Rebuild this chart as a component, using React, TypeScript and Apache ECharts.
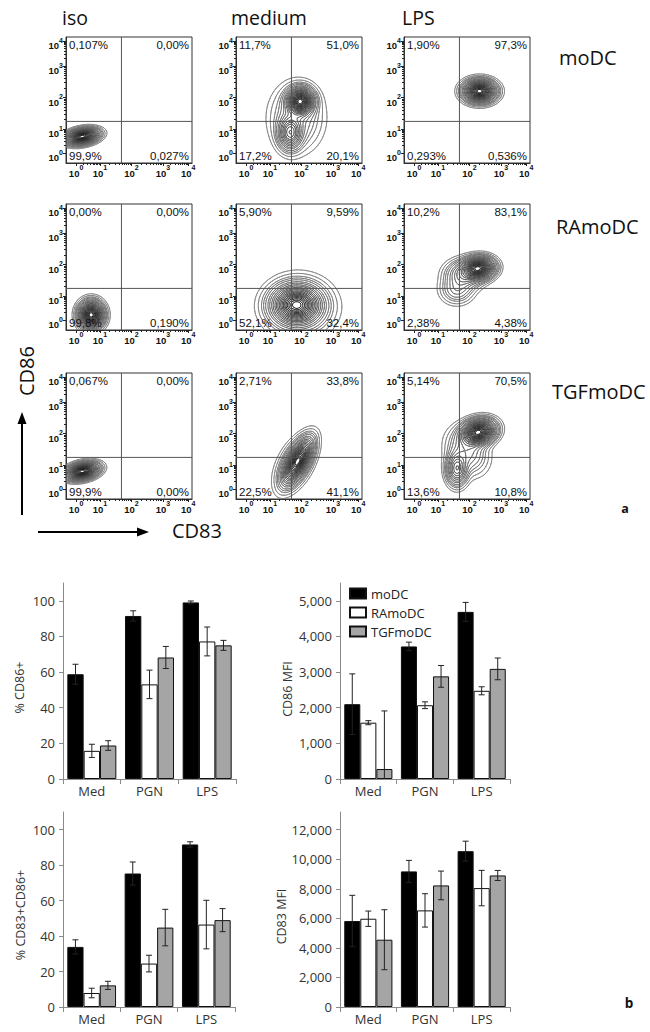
import React, { useEffect, useRef } from "react";
import * as echarts from "echarts";

// ---------- Flow cytometry (panel a) ----------
const COLUMN_TITLES = ["iso", "medium", "LPS"];
const ROW_TITLES = ["moDC", "RAmoDC", "TGFmoDC"];
// display positions (0-100) of the decades 10^0 .. 10^4
const DECADE_POS = [8, 27, 52, 77, 97];
const GATE_X = 44;
const GATE_Y = 33;

// quadrant percentages [top-left, top-right, bottom-left, bottom-right], per row
const QUAD_ISO = [
  ["0,107%", "0,00%", "99,9%", "0,027%"],
  ["0,00%", "0,00%", "99,8%", "0,190%"],
  ["0,067%", "0,00%", "99,9%", "0,00%"],
];
const QUAD_MEDIUM = [
  ["11,7%", "51,0%", "17,2%", "20,1%"],
  ["5,90%", "9,59%", "52,1%", "32,4%"],
  ["2,71%", "33,8%", "22,5%", "41,1%"],
];
const QUAD_LPS = [
  ["1,90%", "97,3%", "0,293%", "0,536%"],
  ["10,2%", "83,1%", "2,38%", "4,38%"],
  ["5,14%", "70,5%", "13,6%", "10,8%"],
];

// cell populations: [cx, cy, sdAlong, sdAcross, angleDeg, weight] in display units
const POP_ISO = [
  [[13, 21, 6.5, 3, 10, 1]],
  [[20, 12, 5, 5.5, 0, 1]],
  [[13, 22, 6.5, 3.2, 12, 1]],
];
const POP_MEDIUM = [
  [[51, 49, 5.5, 5.5, 0, 1], [43, 24, 5, 7, 0, 0.45], [48, 36, 11, 14, 0, 0.12]],
  [[48, 20, 10, 8, 0, 1], [50, 18, 14, 12, 0, 0.2]],
  [[49, 30, 10, 4.2, 62, 1], [47, 28, 12, 6.5, 62, 0.15]],
];
const POP_LPS = [
  [[60, 57, 6.5, 4.5, 0, 1]],
  [[59, 49, 6.5, 4.5, 5, 1], [48, 44, 8, 6, 0, 0.25], [42, 32, 7, 6, 0, 0.12]],
  [[59, 53, 7, 5, 15, 1], [42, 24, 4.5, 7, 0, 0.35], [50, 38, 8, 10, 30, 0.15]],
];
const CONTOUR_LEVELS = [
  0.01, 0.02, 0.035, 0.05, 0.07, 0.1, 0.13, 0.17, 0.21, 0.26, 0.31,
  0.36, 0.42, 0.48, 0.54, 0.6, 0.66, 0.72, 0.78, 0.84, 0.9, 0.95,
];

const QUADS = [QUAD_ISO, QUAD_MEDIUM, QUAD_LPS];
const POPS = [POP_ISO, POP_MEDIUM, POP_LPS];

// ---------- Bar charts (panel b) ----------
const CATEGORIES = ["Med", "PGN", "LPS"];
const GROUPS = ["moDC", "RAmoDC", "TGFmoDC"];

const PCT_TICKS = [0, 20, 40, 60, 80, 100];
const CD86_MFI_TICKS = [0, 1000, 2000, 3000, 4000, 5000];
const CD83_MFI_TICKS = [0, 2000, 4000, 6000, 8000, 10000, 12000];

const CD86_PCT_MODC = [58.8, 91.5, 99.1];
const CD86_PCT_MODC_ERR = [5.6, 2.9, 0.8];
const CD86_PCT_RA = [15.8, 53.1, 77.2];
const CD86_PCT_RA_ERR = [3.7, 8, 8.1];
const CD86_PCT_TGF = [18.8, 68.2, 75];
const CD86_PCT_TGF_ERR = [2.7, 6.2, 2.8];

const CD86_MFI_MODC = [2100, 3720, 4690];
const CD86_MFI_MODC_ERR = [850, 120, 265];
const CD86_MFI_RA = [1580, 2070, 2475];
const CD86_MFI_RA_ERR = [57, 95, 113];
const CD86_MFI_TGF = [280, 2880, 3090];
const CD86_MFI_TGF_ERR = [1630, 305, 305];

const CD83_PCT_MODC = [33.9, 75.3, 91.7];
const CD83_PCT_MODC_ERR = [4, 6.5, 1.5];
const CD83_PCT_RA = [7.9, 24.5, 46.5];
const CD83_PCT_RA_ERR = [2.7, 4.7, 13.7];
const CD83_PCT_TGF = [12.2, 44.8, 49];
const CD83_PCT_TGF_ERR = [2.3, 10.3, 6.5];

const CD83_MFI_MODC = [5820, 9180, 10550];
const CD83_MFI_MODC_ERR = [1740, 745, 675];
const CD83_MFI_RA = [5975, 6540, 8050];
const CD83_MFI_RA_ERR = [520, 1130, 1200];
const CD83_MFI_TGF = [4555, 8230, 8905];
const CD83_MFI_TGF_ERR = [2030, 970, 340];

const GROUP_COLORS = ["#000000", "#ffffff", "#a5a5a5"];

// ---------- helpers ----------
const MINOR_POS: number[] = [];
for (let k = 0; k < DECADE_POS.length - 1; k++) {
  for (let m = 2; m <= 9; m++) {
    MINOR_POS.push(DECADE_POS[k] + (DECADE_POS[k + 1] - DECADE_POS[k]) * Math.log10(m));
  }
}

const SEG = [
  [], [3, 0], [0, 1], [3, 1], [1, 2], [3, 0, 1, 2], [0, 2], [3, 2],
  [2, 3], [0, 2], [0, 1, 2, 3], [1, 2], [1, 3], [0, 1], [0, 3], [],
];

function densityGrid(pops: number[][], n: number) {
  const N1 = n + 1;
  const vals = new Float64Array(N1 * N1);
  let max = 0;
  for (let j = 0; j <= n; j++) {
    for (let i = 0; i <= n; i++) {
      const x = (i * 100) / n;
      const y = (j * 100) / n;
      let f = 0;
      for (const p of pops) {
        const [cx, cy, sa, sb, rot, w] = p;
        const t = (rot * Math.PI) / 180;
        const dx = x - cx;
        const dy = y - cy;
        const u = dx * Math.cos(t) + dy * Math.sin(t);
        const v = -dx * Math.sin(t) + dy * Math.cos(t);
        f += w * Math.exp(-0.5 * ((u * u) / (sa * sa) + (v * v) / (sb * sb)));
      }
      vals[j * N1 + i] = f;
      if (f > max) max = f;
    }
  }
  for (let q = 0; q < vals.length; q++) vals[q] /= max;
  return vals;
}

function contourPath(vals: Float64Array, n: number, L: number, X: (v: number) => number, Y: (v: number) => number) {
  const N1 = n + 1;
  const s = 100 / n;
  const parts: string[] = [];
  const ip = (a: number, b: number, va: number, vb: number) => a + ((b - a) * (L - va)) / (vb - va);
  for (let j = 0; j < n; j++) {
    for (let i = 0; i < n; i++) {
      const v0 = vals[j * N1 + i];
      const v1 = vals[j * N1 + i + 1];
      const v2 = vals[(j + 1) * N1 + i + 1];
      const v3 = vals[(j + 1) * N1 + i];
      const idx = (v0 > L ? 1 : 0) | (v1 > L ? 2 : 0) | (v2 > L ? 4 : 0) | (v3 > L ? 8 : 0);
      if (idx === 0 || idx === 15) continue;
      const e = [
        [ip(i, i + 1, v0, v1), j],
        [i + 1, ip(j, j + 1, v1, v2)],
        [ip(i, i + 1, v3, v2), j + 1],
        [i, ip(j, j + 1, v0, v3)],
      ];
      const sg = SEG[idx];
      for (let q = 0; q < sg.length; q += 2) {
        const a = e[sg[q]];
        const b = e[sg[q + 1]];
        parts.push(
          "M" + X(a[0] * s).toFixed(1) + " " + Y(a[1] * s).toFixed(1) +
          "L" + X(b[0] * s).toFixed(1) + " " + Y(b[1] * s).toFixed(1)
        );
      }
    }
  }
  return parts.join("");
}

function levelColor(li: number) {
  const t = li / (CONTOUR_LEVELS.length - 1);
  const g = Math.round(125 - 100 * t);
  return `rgb(${g},${g},${g})`;
}

function makeFlowRender(pops: number[][], quad: string[]) {
  return (_params: any, api: any) => {
    const p0 = api.coord([0, 0]);
    const p1 = api.coord([100, 100]);
    const X = (v: number) => p0[0] + ((p1[0] - p0[0]) * v) / 100;
    const Y = (v: number) => p0[1] + ((p1[1] - p0[1]) * v) / 100;
    const n = 100;
    const vals = densityGrid(pops, n);
    const children: any[] = [];
    CONTOUR_LEVELS.forEach((L, li) => {
      const d = contourPath(vals, n, L, X, Y);
      if (d) {
        children.push({
          type: "path",
          shape: { pathData: d },
          style: { stroke: levelColor(li), fill: "none", lineWidth: 0.8, lineCap: "round" },
        });
      }
    });
    const gs = { stroke: "#555", lineWidth: 1 };
    children.push({ type: "line", shape: { x1: X(GATE_X), y1: Y(0), x2: X(GATE_X), y2: Y(100) }, style: gs });
    children.push({ type: "line", shape: { x1: X(0), y1: Y(GATE_Y), x2: X(100), y2: Y(GATE_Y) }, style: gs });
    const ts = { fill: "#111", fontSize: 11.5, fontFamily: "Liberation Sans, Arial, sans-serif" };
    const pos = [
      [X(0) + 3, Y(100) + 2, "left", "top"],
      [X(100) - 3, Y(100) + 2, "right", "top"],
      [X(0) + 3, Y(0) - 1, "left", "bottom"],
      [X(100) - 3, Y(0) - 1, "right", "bottom"],
    ];
    quad.forEach((txt, qi) => {
      const [x, y, al, va] = pos[qi] as any;
      children.push({
        type: "text",
        style: { ...ts, text: txt, x, y, align: al, textAlign: al, verticalAlign: va, textVerticalAlign: va },
      });
    });
    return { type: "group", children };
  };
}

const FLOW_RICH = {
  b: { fontSize: 9.5, fontWeight: "bold", fontFamily: "Liberation Sans, Arial", color: "#111", lineHeight: 14, verticalAlign: "bottom" },
  s: { fontSize: 7, fontWeight: "bold", fontFamily: "Liberation Sans, Arial", color: "#111", lineHeight: 6, verticalAlign: "top" },
};

function fmtDecade(v: number) {
  const k = DECADE_POS.findIndex((d) => Math.abs(d - v) < 0.01);
  return `{b|10}{s|${k}}`;
}

function flowAxis(gridIndex: number, dim: "x" | "y", major: boolean) {
  const base: any = {
    gridIndex,
    type: "value",
    min: 0,
    max: 100,
    position: dim === "x" ? "bottom" : "left",
    splitLine: { show: false },
    silent: true,
  };
  if (major) {
    return {
      ...base,
      axisLine: { show: true, lineStyle: { color: "#333", width: 1 } },
      axisTick: { show: true, length: 3, customValues: DECADE_POS, lineStyle: { color: "#222", width: 1 } },
      axisLabel: {
        show: true,
        customValues: DECADE_POS,
        formatter: fmtDecade,
        rich: FLOW_RICH,
        margin: dim === "x" ? 1 : 3,
        padding: dim === "y" ? [6, 0, 0, 0] : 0,
      },
    };
  }
  return {
    ...base,
    axisLine: { show: false },
    axisTick: { show: true, length: 2, customValues: MINOR_POS, lineStyle: { color: "#222", width: 1 } },
    axisLabel: { show: false },
  };
}

const FONT = "Open Sans, Noto Sans, sans-serif";

function errRender(_params: any, api: any) {
  const cat = api.value(0);
  const v = api.value(1);
  const e = api.value(2);
  const g = api.value(3);
  const band = api.size([1, 0])[0];
  const bw = (band * 0.85) / 3;
  const cx = api.coord([cat, v])[0] + (g - 1) * bw;
  const yt = api.coord([cat, v + e])[1];
  const yb = api.coord([cat, v - e])[1];
  const cap = 3;
  const st = { stroke: "#222", lineWidth: 1 };
  return {
    type: "group",
    children: [
      { type: "line", shape: { x1: cx, y1: yt, x2: cx, y2: yb }, style: st },
      { type: "line", shape: { x1: cx - cap, y1: yt, x2: cx + cap, y2: yt }, style: st },
      { type: "line", shape: { x1: cx - cap, y1: yb, x2: cx + cap, y2: yb }, style: st },
    ],
  };
}

function buildOption() {
  const grid: any[] = [];
  const xAxis: any[] = [];
  const yAxis: any[] = [];
  const series: any[] = [];

  const FLOW_LEFT = [66, 236, 404];
  const FLOW_TOP = [37, 204, 373];
  for (let r = 0; r < 3; r++) {
    for (let c = 0; c < 3; c++) {
      const k = r * 3 + c;
      grid.push({ left: FLOW_LEFT[c], top: FLOW_TOP[r], width: 126, height: 126, show: true, borderColor: "#333", borderWidth: 1 });
      xAxis.push(flowAxis(k, "x", true), flowAxis(k, "x", false));
      yAxis.push(flowAxis(k, "y", true), flowAxis(k, "y", false));
      series.push({
        type: "custom",
        name: "flow" + k,
        xAxisIndex: 2 * k,
        yAxisIndex: 2 * k,
        clip: true,
        silent: true,
        data: [[50, 50]],
        renderItem: makeFlowRender(POPS[c][r], QUADS[c][r]),
      });
    }
  }

  const charts = [
    {
      name: "% CD86+", max: 110, ticks: PCT_TICKS, left: 63, top: 583, width: 173, height: 196, gap: 37, pad: 13,
      vals: [CD86_PCT_MODC, CD86_PCT_RA, CD86_PCT_TGF], errs: [CD86_PCT_MODC_ERR, CD86_PCT_RA_ERR, CD86_PCT_TGF_ERR],
    },
    {
      name: "CD86 MFI", max: 5500, ticks: CD86_MFI_TICKS, left: 340, top: 583, width: 170, height: 196, gap: 46, pad: 16,
      vals: [CD86_MFI_MODC, CD86_MFI_RA, CD86_MFI_TGF], errs: [CD86_MFI_MODC_ERR, CD86_MFI_RA_ERR, CD86_MFI_TGF_ERR],
    },
    {
      name: "% CD83+CD86+", max: 110, ticks: PCT_TICKS, left: 63, top: 812, width: 172, height: 195, gap: 36, pad: 11,
      vals: [CD83_PCT_MODC, CD83_PCT_RA, CD83_PCT_TGF], errs: [CD83_PCT_MODC_ERR, CD83_PCT_RA_ERR, CD83_PCT_TGF_ERR],
    },
    {
      name: "CD83 MFI", max: 13200, ticks: CD83_MFI_TICKS, left: 340, top: 812, width: 170, height: 195, gap: 48, pad: 14,
      vals: [CD83_MFI_MODC, CD83_MFI_RA, CD83_MFI_TGF], errs: [CD83_MFI_MODC_ERR, CD83_MFI_RA_ERR, CD83_MFI_TGF_ERR],
    },
  ];

  charts.forEach((ch, ci) => {
    const gi = grid.length;
    grid.push({ left: ch.left, top: ch.top, width: ch.width, height: ch.height, show: false });
    const ai = xAxis.length;
    xAxis.push({
      gridIndex: gi,
      type: "category",
      data: CATEGORIES,
      boundaryGap: true,
      axisLine: { show: true, lineStyle: { color: "#8a8a8a", width: 1 } },
      axisTick: { show: true, length: 5, lineStyle: { color: "#8a8a8a" } },
      axisLabel: { margin: 5, fontSize: 13, color: "#333", fontFamily: FONT },
      splitLine: { show: false },
    });
    yAxis.push({
      gridIndex: gi,
      type: "value",
      min: 0,
      max: ch.max,
      axisLine: { show: true, lineStyle: { color: "#8a8a8a", width: 1 } },
      axisTick: { show: true, length: 4, customValues: ch.ticks, lineStyle: { color: "#8a8a8a" } },
      axisLabel: {
        customValues: ch.ticks,
        margin: 8,
        fontSize: 13,
        color: "#333",
        fontFamily: FONT,
        formatter: (v: number) => v.toLocaleString("en-US"),
      },
      splitLine: { show: false },
      name: ch.name,
      nameLocation: "middle",
      nameGap: ch.gap,
      nameTextStyle: { fontSize: 12.5, color: "#333", fontFamily: FONT, padding: [0, ch.pad, 0, 0] },
    });
    GROUPS.forEach((gname, g) => {
      series.push({
        type: "bar",
        name: gname,
        xAxisIndex: ai,
        yAxisIndex: ai,
        data: ch.vals[g],
        barGap: "0%",
        barCategoryGap: "15%",
        silent: true,
        itemStyle: { color: GROUP_COLORS[g], borderColor: "#111", borderWidth: 1 },
      });
    });
    const rows: number[][] = [];
    GROUPS.forEach((_gname, g) => {
      CATEGORIES.forEach((_c, cIdx) => rows.push([cIdx, ch.vals[g][cIdx], ch.errs[g][cIdx], g]));
    });
    series.push({
      type: "custom",
      name: "err" + ci,
      xAxisIndex: ai,
      yAxisIndex: ai,
      clip: true,
      silent: true,
      z: 3,
      encode: { x: 0, y: 1 },
      data: rows,
      renderItem: errRender,
    });
  });

  const txt = (text: string, x: number, y: number, extra: any = {}) => ({
    type: "text",
    x,
    y,
    rotation: extra.rotation || 0,
    style: {
      text,
      fontSize: extra.fontSize || 19.5,
      fontFamily: FONT,
      fontWeight: extra.fontWeight || "normal",
      fill: "#111",
      align: extra.align || "left",
      textAlign: extra.align || "left",
      verticalAlign: "middle",
      textVerticalAlign: "middle",
    },
  });

  const graphic: any[] = [
    txt(COLUMN_TITLES[0], 62, 17),
    txt(COLUMN_TITLES[1], 231, 17),
    txt(COLUMN_TITLES[2], 402, 17),
    txt(ROW_TITLES[0], 559, 57, { fontSize: 20 }),
    txt(ROW_TITLES[1], 556, 226, { fontSize: 20 }),
    txt(ROW_TITLES[2], 552, 391, { fontSize: 20 }),
    txt("CD86", 26, 371, { fontSize: 20, align: "center", rotation: Math.PI / 2 }),
    txt("CD83", 172, 530, { fontSize: 20 }),
    txt("a", 625, 508, { fontSize: 12.5, fontWeight: "bold", align: "center" }),
    txt("b", 629, 1003, { fontSize: 13.5, fontWeight: "bold", align: "center" }),
    { type: "line", shape: { x1: 22, y1: 515, x2: 22, y2: 421 }, style: { stroke: "#000", lineWidth: 2 } },
    { type: "polygon", shape: { points: [[22, 412], [17.5, 424], [26.5, 424]] }, style: { fill: "#000" } },
    { type: "line", shape: { x1: 38, y1: 532, x2: 140, y2: 532 }, style: { stroke: "#000", lineWidth: 2 } },
    { type: "polygon", shape: { points: [[149, 532], [137, 527.5], [137, 536.5]] }, style: { fill: "#000" } },
  ];

  return {
    animation: false,
    backgroundColor: "#ffffff",
    textStyle: { fontFamily: FONT },
    legend: {
      data: GROUPS,
      left: 344,
      top: 582,
      orient: "vertical",
      itemWidth: 16,
      itemHeight: 10,
      itemGap: 6,
      icon: "rect",
      selectedMode: false,
      textStyle: { fontSize: 13, color: "#222", fontFamily: FONT },
    },
    grid,
    xAxis,
    yAxis,
    series,
    graphic,
  };
}

export default function App() {
  const ref = useRef<HTMLDivElement>(null);
  useEffect(() => {
    if (!ref.current) return;
    const chart = echarts.init(ref.current, null, { renderer: "svg" });
    chart.setOption(buildOption() as any);
    return () => chart.dispose();
  }, []);
  return (
    <div
      ref={ref}
      style={{ position: "absolute", left: 0, top: 0, width: 650, height: 1032, background: "#fff" }}
    />
  );
}
